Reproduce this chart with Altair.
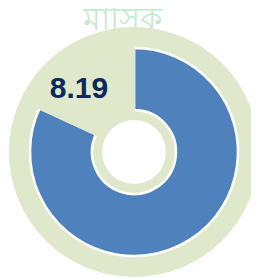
import altair as alt
import pandas as pd

# data
categories = ["value", "rest"]
values = [8.19, 1.81]
label_text = "8.19"
title_text = "মাসিক"

CX, CY = 126, 144

df = pd.DataFrame({"cat": categories, "val": values, "ord": [0, 1]})
bg = pd.DataFrame({"v": [1]})

disk = alt.Chart(bg).mark_arc(radius=125, color="#dfe8cb", x=CX, y=CY).encode(
    theta=alt.Theta("v:Q", scale=alt.Scale(domain=[0, 1]))
)

ring = alt.Chart(df).mark_arc(radius=104, radius2=42, strokeWidth=2.5, x=CX, y=CY).encode(
    theta=alt.Theta("val:Q", stack=True, scale=alt.Scale(domain=[0, 10])),
    order=alt.Order("ord:Q"),
    color=alt.Color("cat:N", scale=alt.Scale(domain=categories, range=["#4f81bd", "#dfe8cb"]), legend=None),
    stroke=alt.Stroke("cat:N", scale=alt.Scale(domain=categories, range=["#ffffff", "#dfe8cb"]), legend=None),
)

hole = alt.Chart(bg).mark_arc(radius=32, color="#ffffff", x=CX, y=CY).encode(
    theta=alt.Theta("v:Q", scale=alt.Scale(domain=[0, 1]))
)

label = alt.Chart(pd.DataFrame({"t": [label_text]})).mark_text(
    font="Liberation Sans", fontWeight="bold", fontSize=30, color="#0e2a5c",
    align="center", baseline="middle"
).encode(x=alt.value(71), y=alt.value(81), text="t:N")

title = alt.Chart(pd.DataFrame({"t": [title_text]})).mark_text(
    font="Noto Sans", fontSize=32, color="#c4e8d0", align="center", baseline="top"
).encode(x=alt.value(114), y=alt.value(-3), text="t:N")

chart = alt.layer(title, disk, ring, hole, label).resolve_scale(
    theta="independent"
).properties(
    width=243, height=271, padding=0, autosize="none"
).configure_view(stroke=None)

chart.save("out.html", embed_options={"renderer": "svg", "actions": False})
